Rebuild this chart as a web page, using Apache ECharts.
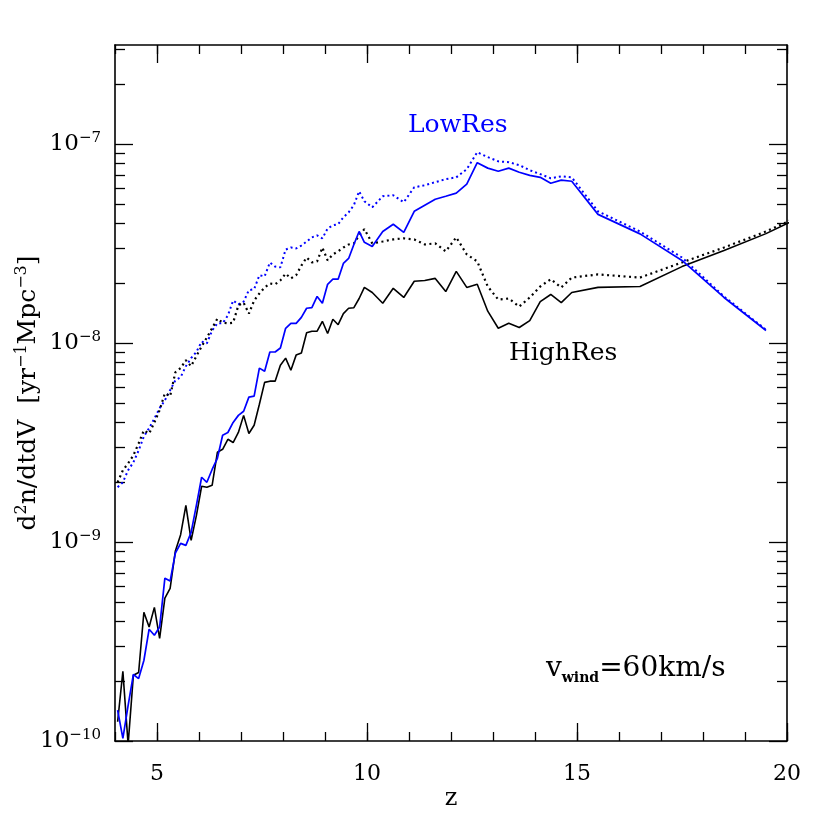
<!DOCTYPE html>
<html><head><meta charset="utf-8">
<script src="https://cdn.jsdelivr.net/npm/echarts@6/dist/echarts.min.js"></script>
<style>html,body{margin:0;padding:0;background:#fff}#c{width:830px;height:830px}</style>
</head><body><div id="c"></div>
<script>
// redshift bin centres
const zBins = [
4.0625,4.1875,4.3125,4.4375,4.5625,4.6875,4.8125,4.9375,5.0625,5.1875,
5.3125,5.4375,5.5625,5.6875,5.8125,5.9375,6.0625,6.1875,6.3125,6.4375,
6.5625,6.6875,6.8125,6.9375,7.0625,7.1875,7.3125,7.4375,7.5625,7.6875,
7.8125,7.9375,8.0625,8.1875,8.3125,8.4375,8.5625,8.6875,8.8125,8.9375,
9.0625,9.1875,9.3125,9.4375,9.5625,9.6875,9.8125,9.9375,
10.125,10.375,10.625,10.875,11.125,11.375,11.625,11.875,12.125,12.375,
12.625,12.875,13.125,13.375,13.625,13.875,14.125,14.375,14.625,14.875,
15.5,16.5,17.5,18.5,19.5,20.5];

const lowResSolid = [
1.43e-10,1.03e-10,1.51e-10,2.16e-10,2.06e-10,2.54e-10,3.65e-10,3.40e-10,3.74e-10,6.59e-10,
6.37e-10,8.82e-10,9.86e-10,9.63e-10,1.12e-9,1.53e-9,2.12e-9,2.00e-9,2.32e-9,2.64e-9,
3.45e-9,3.56e-9,4.00e-9,4.34e-9,4.55e-9,5.36e-9,5.42e-9,7.50e-9,7.24e-9,9.04e-9,
9.04e-9,9.47e-9,1.19e-8,1.26e-8,1.26e-8,1.35e-8,1.50e-8,1.51e-8,1.72e-8,1.59e-8,
1.98e-8,2.10e-8,2.10e-8,2.52e-8,2.67e-8,3.14e-8,3.65e-8,3.22e-8,
3.07e-8,3.65e-8,3.97e-8,3.61e-8,4.61e-8,4.95e-8,5.30e-8,5.49e-8,5.69e-8,6.32e-8,
8.09e-8,7.60e-8,7.33e-8,7.60e-8,7.25e-8,6.99e-8,6.83e-8,6.38e-8,6.61e-8,6.53e-8,
4.45e-8,3.55e-8,2.61e-8,1.70e-8,1.16e-8];

const lowResDotted = [
1.89e-9,2.00e-9,2.30e-9,2.52e-9,2.89e-9,3.40e-9,3.74e-9,4.19e-9,4.71e-9,5.17e-9,
5.81e-9,6.52e-9,6.75e-9,7.67e-9,8.42e-9,9.04e-9,1.02e-8,1.00e-8,1.16e-8,1.26e-8,
1.26e-8,1.38e-8,1.64e-8,1.57e-8,1.62e-8,1.85e-8,1.87e-8,2.20e-8,2.17e-8,2.55e-8,
2.43e-8,2.41e-8,2.96e-8,3.03e-8,3.00e-8,3.10e-8,3.25e-8,3.41e-8,3.49e-8,3.37e-8,
3.78e-8,3.92e-8,3.97e-8,4.30e-8,4.55e-8,4.95e-8,5.81e-8,5.18e-8,
4.83e-8,5.49e-8,5.55e-8,5.12e-8,6.09e-8,6.23e-8,6.46e-8,6.69e-8,6.83e-8,7.50e-8,
9.14e-8,8.63e-8,8.22e-8,8.14e-8,7.87e-8,7.42e-8,7.09e-8,6.76e-8,6.91e-8,6.83e-8,
4.61e-8,3.65e-8,2.70e-8,1.72e-8,1.17e-8];

const highResSolid = [
1.25e-10,2.24e-10,0.96e-10,2.14e-10,2.21e-10,4.44e-10,3.74e-10,4.70e-10,3.28e-10,5.23e-10,
5.86e-10,9.03e-10,1.09e-9,1.53e-9,1.02e-9,1.36e-9,1.91e-9,1.89e-9,1.93e-9,2.83e-9,
2.93e-9,3.29e-9,3.17e-9,3.56e-9,4.34e-9,3.52e-9,3.87e-9,4.94e-9,6.36e-9,6.45e-9,
6.45e-9,7.75e-9,8.42e-9,7.32e-9,8.72e-9,8.93e-9,1.13e-8,1.15e-8,1.15e-8,1.29e-8,
1.12e-8,1.32e-8,1.24e-8,1.41e-8,1.50e-8,1.51e-8,1.68e-8,1.91e-8,
1.80e-8,1.59e-8,1.89e-8,1.70e-8,2.05e-8,2.07e-8,2.12e-8,1.82e-8,2.30e-8,1.91e-8,
1.98e-8,1.45e-8,1.19e-8,1.26e-8,1.20e-8,1.30e-8,1.62e-8,1.76e-8,1.60e-8,1.80e-8,
1.91e-8,1.93e-8,2.43e-8,2.93e-8,3.56e-8,4.50e-8];

const highResDotted = [
2.00e-9,2.30e-9,2.49e-9,2.73e-9,3.14e-9,3.65e-9,3.52e-9,4.00e-9,4.61e-9,5.61e-9,
5.42e-9,7.15e-9,7.50e-9,8.22e-9,7.67e-9,8.62e-9,9.64e-9,1.07e-8,1.19e-8,1.33e-8,
1.27e-8,1.26e-8,1.27e-8,1.55e-8,1.60e-8,1.41e-8,1.64e-8,1.78e-8,1.91e-8,2.00e-8,
1.98e-8,2.07e-8,2.24e-8,2.12e-8,2.20e-8,2.46e-8,2.70e-8,2.55e-8,2.58e-8,3.03e-8,
2.61e-8,2.80e-8,2.90e-8,3.03e-8,3.14e-8,3.18e-8,3.49e-8,3.75e-8,
3.18e-8,3.25e-8,3.33e-8,3.37e-8,3.33e-8,3.14e-8,3.18e-8,2.90e-8,3.41e-8,2.80e-8,
2.58e-8,1.93e-8,1.66e-8,1.68e-8,1.53e-8,1.70e-8,1.93e-8,2.10e-8,1.91e-8,2.14e-8,
2.22e-8,2.14e-8,2.55e-8,3.03e-8,3.65e-8,4.55e-8];

const xRange = [4, 20];
const xMajorTicks = [5, 10, 15, 20];
const xMinorInterval = 1;
const yRange = [1e-10, 3.1623e-7];
const yDecadeExponents = [-10, -9, -8, -7];
const yMinorMantissas = [2, 3, 4, 5, 6, 7, 8, 9];
const labelLowRes = 'LowRes';
const labelHighRes = 'HighRes';

const FONT = 'DejaVu Serif';
const logMin = Math.log10(yRange[0]);
const logMax = Math.log10(yRange[1]);
const yMinorPos = [];
yDecadeExponents.forEach(e => yMinorMantissas.forEach(m => {
  const p = e + Math.log10(m);
  if (p <= logMax) yMinorPos.push(p);
}));

function pairs(vals) { return vals.map((v, i) => [zBins[i], v]); }

const axisLineStyle = { color: '#000', width: 1.6 };
const tickLine = { color: '#000', width: 1.3 };

function xAxisDef(pos, major, labels) {
  const a = {
    type: 'value', position: pos, min: xRange[0], max: xRange[1],
    axisLine: { show: major, onZero: false, lineStyle: axisLineStyle },
    splitLine: { show: false },
    axisTick: { show: true, inside: true, length: major ? 18 : 9, lineStyle: tickLine },
    axisLabel: { show: false }
  };
  if (major) {
    a.axisTick.customValues = xMajorTicks;
  } else {
    a.interval = xMinorInterval;
  }
  if (labels) {
    a.axisLabel = { show: true, customValues: xMajorTicks, margin: 22,
      fontFamily: FONT, fontSize: 22, color: '#000' };
    a.name = 'z';
    a.nameLocation = 'middle';
    a.nameGap = 46;
    a.nameMoveOverlap = false;
    a.nameTextStyle = { fontFamily: FONT, fontSize: 24, color: '#000' };
  }
  return a;
}

function yTickAxis(pos, major, labels) {
  const a = {
    type: 'value', position: pos, min: logMin, max: logMax,
    axisLine: { show: false },
    splitLine: { show: false },
    axisTick: { show: true, inside: true, length: major ? 18 : 10, lineStyle: tickLine,
      customValues: major ? yDecadeExponents : yMinorPos },
    axisLabel: { show: false }
  };
  if (labels) {
    a.axisLabel = {
      show: true, customValues: yDecadeExponents, margin: 14,
      formatter: v => '{b|10}{s|\u2212' + Math.round(Math.abs(v)) + '}',
      rich: {
        b: { fontFamily: FONT, fontSize: 23, color: '#000', lineHeight: 27 },
        s: { fontFamily: FONT, fontSize: 15, color: '#000', lineHeight: 17, verticalAlign: 'top' }
      }
    };
    a.name = '{m|d}{s|2}{m|n/dtdV  [yr}{s|\u22121}{m|Mpc}{s|\u22123}{m|]}';
    a.nameLocation = 'middle';
    a.nameRotate = 90;
    a.nameGap = 72;
    a.nameMoveOverlap = false;
    a.nameTextStyle = {
      rich: {
        m: { fontFamily: FONT, fontSize: 25, color: '#000', lineHeight: 29 },
        s: { fontFamily: FONT, fontSize: 16, color: '#000', lineHeight: 18, verticalAlign: 'top' }
      }
    };
  }
  return a;
}

const chart = echarts.init(document.getElementById('c'), null, { renderer: 'canvas' });
chart.setOption({
  animation: false,
  backgroundColor: '#fff',
  grid: { left: 115, right: 43, top: 45, bottom: 89, containLabel: false, outerBoundsMode: 'none' },
  xAxis: [
    xAxisDef('bottom', true, true),
    xAxisDef('bottom', false, false),
    xAxisDef('top', true, false),
    xAxisDef('top', false, false)
  ],
  yAxis: [
    { type: 'log', logBase: 10, position: 'left', min: yRange[0], max: yRange[1],
      axisLine: { show: true, onZero: false, lineStyle: axisLineStyle },
      axisTick: { show: false }, axisLabel: { show: false },
      splitLine: { show: false }, minorTick: { show: false }, minorSplitLine: { show: false } },
    yTickAxis('left', true, true),
    yTickAxis('left', false, false),
    Object.assign(yTickAxis('right', true, false), { axisLine: { show: true, onZero: false, lineStyle: axisLineStyle } }),
    yTickAxis('right', false, false)
  ],
  series: [
    { name: labelLowRes + ' dotted', type: 'line', xAxisIndex: 0, yAxisIndex: 0,
      data: pairs(lowResDotted), showSymbol: false, symbol: 'none',
      lineStyle: { color: '#0000ff', width: 2, type: [2, 3] } },
    { name: labelHighRes + ' dotted', type: 'line', xAxisIndex: 0, yAxisIndex: 0,
      data: pairs(highResDotted), showSymbol: false, symbol: 'none',
      lineStyle: { color: '#000', width: 2.2, type: [2, 3.5] } },
    { name: labelHighRes, type: 'line', xAxisIndex: 0, yAxisIndex: 0,
      data: pairs(highResSolid), showSymbol: false, symbol: 'none',
      lineStyle: { color: '#000', width: 1.6 } },
    { name: labelLowRes, type: 'line', xAxisIndex: 0, yAxisIndex: 0,
      data: pairs(lowResSolid), showSymbol: false, symbol: 'none',
      lineStyle: { color: '#0000ff', width: 1.7 } }
  ],
  graphic: [
    { type: 'text', left: 408, top: 113, silent: true,
      style: { text: labelLowRes, fontFamily: FONT, fontSize: 25, fill: '#0000ff' } },
    { type: 'text', left: 509, top: 341, silent: true,
      style: { text: labelHighRes, fontFamily: FONT, fontSize: 25, fill: '#000' } },
    { type: 'text', left: 546, top: 655, silent: true,
      style: { text: '{m|v}{sub|wind}{m|=60km/s}', fill: '#000',
        rich: {
          m: { fontFamily: FONT, fontSize: 28, lineHeight: 32, fill: '#000' },
          sub: { fontFamily: FONT, fontSize: 14, fontWeight: 'bold', lineHeight: 16, verticalAlign: 'bottom', fill: '#000' }
        } } }
  ]
});
</script>
</body></html>
